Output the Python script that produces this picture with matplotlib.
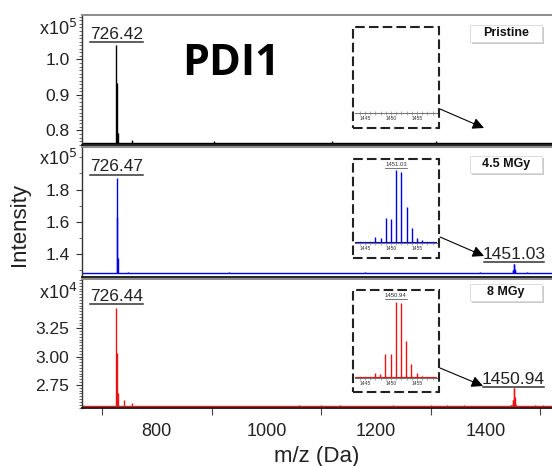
import matplotlib.pyplot as plt
from matplotlib.patches import Rectangle, FancyArrowPatch
from matplotlib.ticker import FixedLocator, MultipleLocator

# peak lists (m/z, intensity) for the three spectra, intensities in axis units
pristine_mz = [726.42, 727.42, 728.42, 754.0, 905.0, 1120.0, 1310.0]
pristine_int = [1.041, 0.934, 0.793, 0.772, 0.769, 0.769, 0.769]
pristine_base = 0.766

mgy45_mz = [726.47, 727.47, 728.47, 747.0, 931.0, 1180.0, 1389.0, 1475.0]
mgy45_int = [1.871, 1.631, 1.375, 1.289, 1.288, 1.285, 1.287, 1.289]
mgy45_base = 1.280

mgy8_mz = [726.44, 727.44, 728.44, 740.0, 754.0, 1060.0, 1100.0, 1135.0,
           1230.0, 1300.0, 1330.0, 1360.0, 1490.0, 1505.0]
mgy8_int = [3.429, 3.032, 2.680, 2.620, 2.590, 2.575, 2.574, 2.575,
            2.574, 2.576, 2.575, 2.576, 2.575, 2.574]
mgy8_base = 2.567

# isotope cluster around m/z 1451 (relative %)
mgy45_iso_mz = [1445.03, 1446.03, 1447.03, 1448.03, 1449.03, 1450.03, 1451.03,
                1452.03, 1453.03, 1454.03, 1455.03, 1456.03, 1457.03, 1458.03]
mgy45_iso_rel = [1.4, 2, 8.3, 7.3, 35, 33, 100, 98, 49.5, 21, 7.3, 3.7, 2, 1.4]
mgy45_iso_top = 1.338

mgy8_iso_mz = [1444.94, 1445.94, 1446.94, 1447.94, 1448.94, 1449.94, 1450.94,
               1451.94, 1452.94, 1453.94, 1454.94, 1455.94, 1456.94, 1457.94]
mgy8_iso_rel = [1, 1.5, 6, 5.5, 31, 32, 100, 98.6, 48.6, 18, 6, 2, 1, 1]
mgy8_iso_top = 2.722

W, H = 552, 466


def fx(x):
    return x / W


def fy(y):
    return 1 - y / H


def box(l, t, r, b):
    return [l / W, 1 - b / H, (r - l) / W, (b - t) / H]


plt.rcParams['font.family'] = ['Liberation Sans', 'DejaVu Sans']
fig = plt.figure(figsize=(5.52, 4.66), dpi=100)

panels = [
    dict(rect=(82, 15, 552, 145), mz=pristine_mz, inten=pristine_int, base=pristine_base,
         color='black', ylim=(0.759, 1.125), major=[0.8, 0.9, 1.0], fmt='%.1f', minor=0.01,
         mult='x10$^5$', mult_y=29, tag='Pristine', tag_y=33, uline=1.048,
         iso=None, inset=(27, 128, 113), arrow=((440, 109), (484, 128))),
    dict(rect=(82, 147, 552, 277), mz=mgy45_mz, inten=mgy45_int, base=mgy45_base,
         color='#0000e6', ylim=(1.257, 2.064), major=[1.4, 1.6, 1.8], fmt='%.1f', minor=0.1,
         mult='x10$^5$', mult_y=159, tag='4.5 MGy', tag_y=164, uline=1.893,
         iso=(mgy45_iso_mz, mgy45_iso_rel, mgy45_iso_top, 1.349),
         inset=(159, 258, 243), arrow=((440, 237), (484, 256))),
    dict(rect=(82, 279, 552, 408), mz=mgy8_mz, inten=mgy8_int, base=mgy8_base,
         color='#ee1111', ylim=(2.547, 3.685), major=[2.75, 3.0, 3.25], fmt='%.2f', minor=0.025,
         mult='x10$^4$', mult_y=293, tag='8 MGy', tag_y=292, uline=3.462,
         iso=(mgy8_iso_mz, mgy8_iso_rel, mgy8_iso_top, 2.730),
         inset=(290, 392, 378), arrow=((440, 368), (483, 386))),
]

for i, p in enumerate(panels):
    ax = fig.add_axes(box(*p['rect']))
    ax.set_xlim(663.5, 1521)
    ax.set_ylim(*p['ylim'])
    col = p['color']

    ax.axhline(p['base'], color=col, lw=1.0)
    ax.vlines(p['mz'], p['base'], p['inten'], color=col, lw=1.0)

    # main peak label with underline
    mz0 = p['mz'][0]
    ax.plot([mz0 - 49, mz0 + 49], [p['uline'], p['uline']], color='#333333', lw=1.1)
    ax.annotate('%.2f' % mz0, (mz0, p['uline']), xytext=(0, 2.4), textcoords='offset points',
                ha='center', va='baseline', fontsize=12.5, color='#222222')

    if p['iso'] is not None:
        imz, irel, itop, iul = p['iso']
        heights = [p['base'] + r / 100 * (itop - p['base']) for r in irel]
        ax.vlines(imz, p['base'], heights, color=col, lw=1.0)
        apex = imz[irel.index(100)]
        ax.plot([apex - 55, apex + 55], [iul, iul], color='#333333', lw=1.1)
        ax.annotate('%.2f' % apex, (apex, iul), xytext=(0, 2.2), textcoords='offset points',
                    ha='center', va='baseline', fontsize=12.5, color='#222222')

    # y axis
    ax.yaxis.set_major_locator(FixedLocator(p['major']))
    ax.set_yticklabels([p['fmt'] % v for v in p['major']])
    ax.yaxis.set_minor_locator(MultipleLocator(p['minor']))
    ax.tick_params(axis='y', which='major', direction='out', length=4, width=0.8,
                   labelsize=12.5, pad=5, colors='#333333', labelcolor='#222222')
    ax.tick_params(axis='y', which='minor', direction='out', length=2.2, width=0.6,
                   colors='#555555')

    ax.spines['right'].set_visible(False)
    ax.spines['top'].set_color('#8c8c8c')
    ax.spines['top'].set_linewidth(1.4)
    ax.spines['left'].set_color('#333333')
    ax.spines['left'].set_linewidth(1.0)
    ax.spines['bottom'].set_color('#111111')
    ax.spines['bottom'].set_linewidth(1.3)

    if i < 2:
        ax.tick_params(axis='x', which='both', bottom=False, labelbottom=False)
    else:
        ax.xaxis.set_major_locator(MultipleLocator(200))
        ax.xaxis.set_minor_locator(MultipleLocator(100))
        ax.tick_params(axis='x', which='major', length=0, labelsize=13, pad=11,
                       labelcolor='#222222')
        ax.tick_params(axis='x', which='minor', direction='out', length=5, width=0.8,
                       colors='#444444')
        ax.set_xlabel('m/z (Da)', fontsize=16, color='#222222', labelpad=4)

    fig.text(fx(77), fy(p['mult_y']), p['mult'], ha='right', va='center',
             fontsize=13, color='#222222')

    # condition tag with drop shadow
    tx0, tx1 = 470, 542
    ty0, ty1 = p['tag_y'] - 8.5, p['tag_y'] + 8.5
    fig.add_artist(Rectangle((fx(tx0 + 2), fy(ty1 + 2.5)), (tx1 - tx0) / W, (ty1 - ty0) / H,
                             transform=fig.transFigure, facecolor='#a0a0a0', edgecolor='none',
                             alpha=0.55))
    fig.add_artist(Rectangle((fx(tx0), fy(ty1)), (tx1 - tx0) / W, (ty1 - ty0) / H,
                             transform=fig.transFigure, facecolor='white', edgecolor='#d8d8d8',
                             lw=0.6))
    fig.text(fx((tx0 + tx1) / 2), fy(p['tag_y']), p['tag'], ha='center', va='center',
             fontsize=9, fontweight='bold', color='#111111')

    # zoomed inset of the 1451 region
    itop_px, ibot_px, iline = p['inset']
    fig.add_artist(Rectangle((fx(353), fy(ibot_px)), 86 / W, (ibot_px - itop_px) / H,
                             transform=fig.transFigure, fill=False, edgecolor='#222222',
                             lw=1.5, linestyle=(0, (4.6, 2.0))))
    ins = fig.add_axes(box(355, itop_px + 2, 437, iline))
    ins.patch.set_visible(False)
    ins.set_xlim(1443.1, 1458.85)
    ins.set_ylim(0, 113)
    for s in ['top', 'right', 'left']:
        ins.spines[s].set_visible(False)
    ins.spines['bottom'].set_color('#777777')
    ins.spines['bottom'].set_linewidth(0.8)
    ins.set_yticks([])
    ins.xaxis.set_major_locator(FixedLocator([1445, 1450, 1455]))
    ins.xaxis.set_minor_locator(MultipleLocator(1))
    ins.tick_params(axis='x', which='both', direction='inout', length=2.2, width=0.4,
                    colors='#777777', labelsize=3.6, pad=1, labelcolor='#333333')
    if p['iso'] is not None:
        imz, irel, itop, iul = p['iso']
        ins.axhline(0.8, color=col, lw=0.8)
        ins.vlines(imz, 0, irel, color=col, lw=1.0)
        apex = imz[irel.index(100)]
        ins.plot([apex - 2.1, apex + 2.1], [104, 104], color='#444444', lw=0.5)
        ins.text(apex, 105, '%.2f' % apex, ha='center', va='bottom', fontsize=4.3,
                 color='#333333')

    (ax0, ay0), (ax1, ay1) = p['arrow']
    fig.add_artist(FancyArrowPatch((fx(ax0), fy(ay0)), (fx(ax1), fy(ay1)),
                                   transform=fig.transFigure, arrowstyle='-|>',
                                   mutation_scale=17, lw=0.8, color='black',
                                   shrinkA=0, shrinkB=0))

fig.text(fx(19), fy(225), 'Intensity', rotation=90, ha='center', va='center',
         fontsize=16, color='#222222')
fig.text(fx(231), fy(75), 'PDI1', ha='center', va='baseline', fontsize=31,
         fontweight='bold', family=['Open Sans', 'DejaVu Sans'])

fig.savefig('out.png', dpi=100)
